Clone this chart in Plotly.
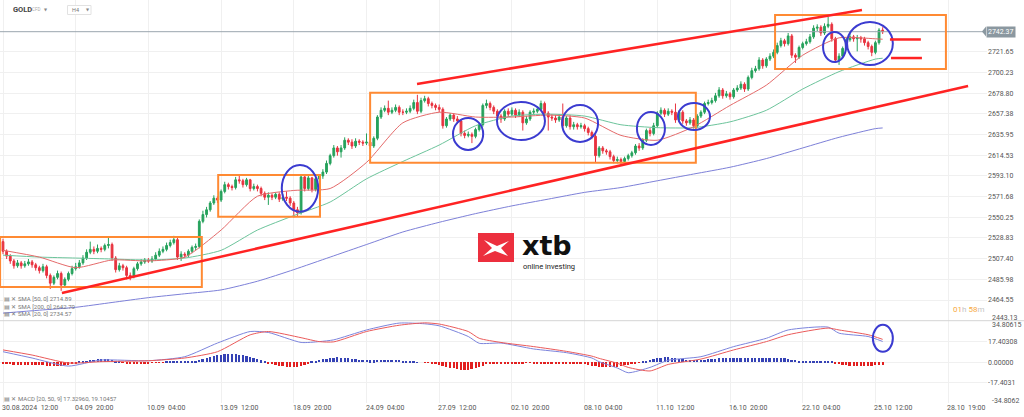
import plotly.graph_objects as go

W, H = 1024, 417

# ---------------- data ----------------
bar_index = list(range(243))

opens = [2525,2515,2510,2505,2500,2503,2500,2502,2504,2501,
         2498,2495,2499,2490,2482,2488,2492,2480,2486,2492,
         2497,2499,2503,2508,2514,2517,2515,2518,2517,2521,
         2522,2508,2496,2500,2498,2490,2489,2497,2502,2504,
         2506,2505,2507,2511,2515,2517,2521,2524,2527,2509,
         2512,2511,2515,2519,2520,2546,2553,2558,2565,2570,
         2568,2577,2584,2582,2581,2589,2588,2584,2589,2580,
         2582,2580,2575,2571,2573,2571,2574,2569,2571,2570,
         2565,2558,2555,2592,2580,2591,2579,2590,2593,2597,
         2606,2614,2622,2618,2622,2630,2628,2624,2629,2628,
         2627,2628,2624,2632,2654,2661,2663,2659,2661,2664,
         2659,2659,2660,2663,2669,2660,2671,2673,2668,2666,
         2664,2662,2645,2652,2656,2652,2650,2637,2635,2636,
         2634,2641,2646,2666,2668,2664,2660,2655,2652,2660,
         2657,2661,2656,2659,2648,2652,2659,2660,2662,2668,
         2658,2654,2653,2651,2654,2645,2653,2644,2646,2644,
         2645,2642,2638,2634,2614,2622,2619,2618,2613,2609,
         2610,2608,2611,2614,2617,2624,2622,2630,2640,2637,
         2645,2658,2661,2657,2660,2659,2651,2659,2650,2648,
         2651,2645,2655,2659,2668,2669,2671,2676,2682,2676,
         2678,2675,2682,2684,2688,2683,2695,2702,2704,2713,
         2707,2714,2717,2721,2728,2733,2730,2738,2718,2716,
         2726,2730,2732,2737,2746,2747,2741,2748,2750,2735,
         2713,2717,2725,2734,2737,2735,2736,2735,2731,2727,
         2721,2731,2744]

highs = [2528,2517,2512,2507,2506,2505,2505,2507,2506,2503,
         2500,2502,2501,2492,2490,2495,2494,2488,2494,2500,
         2503,2506,2511,2517,2525,2520,2522,2520,2523,2530,
         2524,2510,2503,2502,2500,2493,2499,2504,2507,2508,
         2508,2510,2514,2518,2520,2524,2527,2531,2529,2515,
         2514,2517,2521,2523,2548,2557,2561,2567,2573,2572,
         2579,2587,2586,2584,2592,2593,2590,2591,2590,2585,
         2584,2582,2577,2576,2575,2576,2576,2574,2577,2572,
         2567,2561,2594,2593,2593,2592,2592,2595,2600,2609,
         2616,2625,2624,2625,2633,2632,2631,2632,2631,2630,
         2637,2630,2634,2656,2664,2666,2671,2664,2667,2666,
         2662,2663,2666,2672,2677,2674,2676,2675,2670,2668,
         2667,2664,2654,2658,2658,2655,2652,2640,2639,2638,
         2643,2648,2668,2672,2670,2666,2662,2657,2662,2663,
         2664,2663,2662,2661,2655,2661,2663,2665,2671,2670,
         2660,2657,2656,2657,2668,2655,2656,2649,2648,2648,
         2647,2644,2640,2636,2624,2624,2621,2620,2615,2613,
         2612,2613,2616,2619,2626,2627,2632,2642,2643,2648,
         2660,2664,2663,2663,2662,2668,2661,2661,2652,2654,
         2653,2657,2661,2670,2672,2674,2679,2685,2684,2681,
         2680,2684,2687,2691,2690,2697,2705,2707,2716,2715,
         2716,2720,2724,2731,2736,2735,2741,2740,2720,2728,
         2732,2735,2740,2749,2750,2749,2751,2758,2752,2737,
         2720,2727,2736,2740,2739,2739,2738,2737,2733,2729,
         2733,2746,2747]

lows = [2512,2507,2502,2497,2498,2497,2498,2500,2498,2495,
        2492,2493,2487,2476,2480,2486,2474,2478,2484,2490,
        2495,2497,2501,2506,2512,2512,2513,2514,2515,2518,
        2505,2493,2494,2495,2486,2485,2487,2495,2500,2502,
        2503,2503,2505,2509,2513,2515,2519,2522,2506,2505,
        2508,2509,2513,2516,2518,2544,2550,2556,2563,2565,
        2566,2575,2579,2578,2579,2585,2581,2582,2577,2578,
        2577,2572,2568,2563,2568,2569,2566,2567,2567,2562,
        2550,2551,2553,2577,2578,2576,2577,2587,2590,2595,
        2604,2612,2614,2612,2620,2625,2621,2622,2625,2624,
        2625,2621,2622,2630,2652,2659,2656,2657,2659,2656,
        2656,2657,2658,2661,2657,2658,2669,2665,2663,2661,
        2659,2642,2643,2650,2649,2647,2634,2632,2633,2627,
        2632,2639,2644,2663,2661,2657,2652,2648,2650,2654,
        2655,2653,2654,2640,2646,2650,2657,2658,2660,2655,
        2640,2650,2648,2649,2642,2643,2641,2641,2641,2642,
        2639,2635,2631,2607,2612,2616,2615,2610,2606,2606,
        2605,2606,2609,2612,2615,2619,2620,2628,2634,2635,
        2643,2656,2654,2655,2656,2648,2649,2647,2645,2646,
        2642,2643,2653,2657,2666,2667,2669,2674,2673,2674,
        2672,2673,2680,2682,2680,2681,2693,2700,2702,2704,
        2705,2712,2715,2719,2726,2727,2728,2715,2710,2714,
        2724,2728,2730,2735,2743,2738,2739,2746,2732,2710,
        2708,2715,2723,2732,2732,2722,2731,2728,2724,2717,
        2719,2729,2740]

closes = [2515,2510,2505,2500,2503,2500,2502,2504,2501,2498,
          2495,2499,2490,2482,2488,2492,2480,2486,2492,2497,
          2499,2503,2508,2514,2517,2515,2518,2517,2521,2522,
          2508,2496,2500,2498,2490,2489,2497,2502,2504,2506,
          2505,2507,2511,2515,2517,2521,2524,2527,2509,2512,
          2511,2515,2519,2520,2546,2553,2558,2565,2570,2568,
          2577,2584,2582,2581,2589,2588,2584,2589,2580,2582,
          2580,2575,2571,2573,2571,2574,2569,2571,2570,2565,
          2558,2555,2592,2580,2591,2579,2590,2593,2597,2606,
          2614,2622,2618,2622,2630,2628,2624,2629,2628,2627,
          2628,2624,2632,2654,2661,2663,2659,2661,2664,2659,
          2659,2660,2663,2669,2660,2671,2673,2668,2666,2664,
          2662,2645,2652,2656,2652,2650,2637,2635,2636,2634,
          2641,2646,2666,2668,2664,2660,2655,2652,2660,2657,
          2661,2656,2659,2648,2652,2659,2660,2662,2668,2658,
          2654,2653,2651,2654,2645,2653,2644,2646,2644,2645,
          2642,2638,2634,2614,2622,2619,2618,2613,2609,2610,
          2608,2611,2614,2617,2624,2622,2630,2640,2637,2645,
          2658,2661,2657,2660,2659,2651,2659,2650,2648,2651,
          2645,2655,2659,2668,2669,2671,2676,2682,2676,2678,
          2675,2682,2684,2688,2683,2695,2702,2704,2713,2707,
          2714,2717,2721,2728,2733,2730,2738,2718,2716,2726,
          2730,2732,2737,2746,2747,2741,2748,2750,2735,2713,
          2717,2725,2734,2737,2735,2736,2735,2731,2727,2721,
          2731,2744,2742.37]

sma_idx = [0, 10, 20, 30, 40, 50, 60, 70, 80, 90, 100, 110, 120, 130, 140,
           150, 160, 170, 180, 190, 200, 210, 220, 230, 240, 242]
sma20 = [2516, 2509, 2498, 2506, 2505, 2509, 2537, 2572, 2578, 2580, 2607, 2648, 2659,
         2654, 2654, 2656, 2653, 2635, 2630, 2644, 2666, 2687, 2718, 2736, 2735, 2734.57]
sma50 = [2511, 2509, 2508, 2507, 2506, 2508, 2516, 2537, 2552, 2566, 2590, 2608, 2625,
         2645, 2655, 2657, 2655, 2646, 2643, 2643, 2649, 2661, 2683, 2701, 2714, 2714.89]
sma200 = [2451, 2454, 2457, 2462, 2467, 2471, 2475, 2484, 2496, 2509, 2522, 2535, 2545,
          2554, 2562, 2569, 2576, 2581, 2588, 2595, 2602, 2611, 2622, 2633, 2642, 2642.70]

macd_idx = [0, 8, 18, 27, 40, 50, 59, 68, 73, 82, 87, 91, 100, 109, 116, 120, 128, 131,
            137, 146, 155, 162, 164, 169, 172, 178, 183, 192, 201, 210, 216, 227, 230, 238, 242]
macd_line = [8.7, 3.4, -3.4, 1.7, 1.1, 4.5, 16.0, 25.7, 24.9, 16.5, 17.2, 18.7, 27.0, 32.8,
             32.2, 30.5, 21.5, 15.8, 16.0, 11.0, 7.9, 3.4, 0.3, -5.0, -9.0, -4.5, 1.5, 4.5,
             13.0, 20.0, 27.0, 29.4, 24.3, 21.5, 17.3296]
signal_line = [10.2, 5.9, -0.8, 0.3, 1.1, 3.4, 8.7, 22.9, 25.7, 20.5, 17.2, 17.0, 25.7, 31.0,
               33.0, 32.0, 25.7, 20.0, 16.5, 13.0, 9.0, 5.0, 3.1, -1.0, -4.5, -7.5, -2.0, 2.5,
               10.2, 17.2, 23.0, 28.6, 27.0, 23.0, 19.10457]
macd_hist = [-1.5, -1.6, -1.8, -2.0, -2.1, -2.2, -2.3, -2.4, -2.5, -2.5, -2.6, -2.6, -2.7, -2.8,
             -2.8, -2.7, -2.8, -2.6, -2.4, -1.8, -1.0,
             0.5, 1.0, 1.5, 2.0, 2.4, 2.6, 2.8, 2.7, 2.5, 2.0, 1.4, 0.8,
             -0.5, -1.0, -1.3, -1.4, -1.3, -1.0, -0.8, -0.6, -0.4, -0.3, -0.2, -0.1,
             0.3, 0.5, 0.8, 0.9, 0.7, 0.6, 0.8, 1.0, 1.2,
             1.8, 2.8, 3.6, 4.4, 5.2, 5.9, 6.4, 6.8, 7.0, 7.0, 6.8, 6.4, 5.8, 5.0, 4.2, 3.4, 2.5, 1.6, 0.7,
             -0.6, -1.5, -2.2, -2.8, -3.2, -3.5, -3.7, -3.8, -3.6, -3.2, -2.6, -1.8,
             0.5, 1.2, 1.9, 2.6, 3.2, 3.6, 3.9, 4.1, 4.0, 3.8, 3.4, 3.0, 2.6, 2.2, 1.9, 1.7, 1.6,
             1.6, 1.7, 1.9, 2.1, 2.2, 2.2, 2.0, 1.7, 1.3, 0.9, 0.6, 0.4,
             0.1, 0.0, -0.1, -0.2,
             -0.6, -1.2, -2.0, -2.8, -3.6, -4.4, -5.1, -5.7, -6.1, -6.3, -6.2, -5.8, -5.0, -4.0, -2.8, -1.8,
             -1.2, -0.9, -0.7, -0.6, -0.6, -0.7, -0.8, -0.8, -0.7, -0.6, -0.5, -0.5, -0.6, -0.7, -0.8,
             -0.8, -0.9, -1.0, -1.0, -0.9, -0.9, -1.0, -1.1, -1.2, -1.3, -1.5, -1.8, -2.2, -2.7,
             -3.2, -3.6, -3.9, -4.0, -4.0, -3.8, -3.5, -3.1, -2.6, -2.0, -1.3, -0.7, -0.2,
             0.6, 1.4, 2.2, 2.9, 3.5, 3.9, 4.1, 4.1, 3.9, 3.5, 3.1, 2.7, 2.4, 2.2, 2.1, 2.1, 2.2, 2.4,
             2.6, 2.9, 3.1,
             3.3, 3.5, 3.6, 3.7, 3.8, 3.8, 3.9, 3.9, 4.0, 4.0, 4.0, 4.0, 3.9, 3.9, 3.9, 3.8, 3.7, 3.5,
             3.3, 2.9, 2.4,
             1.8, 1.4, 1.2, 1.1, 1.0, 1.0, 1.1, 1.2, 1.1, 0.8, 0.3,
             -0.6, -1.4, -2.0, -2.4, -2.7, -2.9, -3.0, -3.0, -2.9, -2.8, -2.7, -2.6, -2.5, -2.4]

date_tick_idx = [0, 20, 40, 60, 80, 100, 120, 140, 160, 180, 200, 220, 240, 260]
date_tick_labels = ["30.08.2024  12:00", "04.09  20:00", "10.09  04:00", "13.09  12:00",
                    "18.09  20:00", "24.09  04:00", "27.09  12:00", "02.10  20:00",
                    "08.10  04:00", "11.10  12:00", "16.10  20:00", "22.10  04:00",
                    "25.10  12:00", "28.10  19:00"]

price_ticks = [2464.55, 2485.98, 2507.40, 2528.83, 2550.25, 2571.68, 2593.10, 2614.53,
               2635.95, 2657.38, 2678.80, 2700.23, 2721.65]
price_tick_labels = ["2464.55", "2485.98", "2507.40", "2528.83", "2550.25", "2571.68", "2593.10",
                     "2614.53", "2635.95", "2657.38", "2678.80", "2700.23", "2721.65"]
price_min, price_max = 2443.13, 2775.18
last_price = 2742.37

macd_ticks = [17.40308, 0.0, -17.40308]
macd_tick_labels = ["17.40308", "0.00000", "-17.4031"]
macd_lim = 34.80615

legend_sma = ["SMA [50, 0] 2714.89", "SMA [200, 0] 2642.70", "SMA [20, 0] 2734.57"]
legend_macd = "MACD [20, 50, 9] 17.32960, 19.10457"

# ---------------- styles / layout geometry ----------------
FONT = "Roboto"
GREEN = "#26a25c"
RED = "#e8333f"
ORANGE = "#ff8a33"
TREND_RED = "#ff2323"
CIRCLE = "#3b3bd0"
GRID = "#f0f0f0"
LBL = "#555555"

PLOT_R = 987 / W
price_dom = [1 - 320.7 / H, 1.0]
macd_dom = [1 - 403.4 / H, 1 - 320.7 / H]
x_range = [-3 / 3.635, 984 / 3.635]


def py(px):
    return 1 - px / H


def pxx(px):
    return px / W


fig = go.Figure()

fig.add_trace(go.Scatter(x=sma_idx, y=sma200, mode="lines", line=dict(color="#7d80d8", width=1, shape="spline", smoothing=0.6),
                         xaxis="x", yaxis="y", hoverinfo="skip"))
fig.add_trace(go.Scatter(x=sma_idx, y=sma50, mode="lines", line=dict(color="#6cc49b", width=1, shape="spline", smoothing=0.6),
                         xaxis="x", yaxis="y", hoverinfo="skip"))
fig.add_trace(go.Scatter(x=sma_idx, y=sma20, mode="lines", line=dict(color="#e46a6a", width=1, shape="spline", smoothing=0.6),
                         xaxis="x", yaxis="y", hoverinfo="skip"))

fig.add_trace(go.Candlestick(
    x=bar_index, open=opens, high=highs, low=lows, close=closes,
    increasing=dict(line=dict(color=GREEN, width=1), fillcolor=GREEN),
    decreasing=dict(line=dict(color=RED, width=1), fillcolor=RED),
    whiskerwidth=0, xaxis="x", yaxis="y"))

hist_colors = ["#3542b5" if v >= 0 else "#e21f1f" for v in macd_hist]
fig.add_trace(go.Bar(x=bar_index, y=macd_hist, marker=dict(color=hist_colors, line=dict(width=0)),
                     width=0.55, xaxis="x2", yaxis="y2", hoverinfo="skip"))
fig.add_trace(go.Scatter(x=macd_idx, y=macd_line, mode="lines", line=dict(color="#7c84dc", width=1, shape="spline", smoothing=0.6),
                         xaxis="x2", yaxis="y2", hoverinfo="skip"))
fig.add_trace(go.Scatter(x=macd_idx, y=signal_line, mode="lines", line=dict(color="#ea5a5a", width=1, shape="spline", smoothing=0.6),
                         xaxis="x2", yaxis="y2", hoverinfo="skip"))

axis_common = dict(range=x_range, domain=[0, PLOT_R], tickvals=date_tick_idx, showticklabels=False,
                   showgrid=True, gridcolor=GRID, gridwidth=1, zeroline=False, showline=False, ticks="",
                   fixedrange=True)

fig.update_layout(
    width=W, height=H, margin=dict(l=0, r=0, t=0, b=0),
    paper_bgcolor="white", plot_bgcolor="white", showlegend=False,
    font=dict(family=FONT, size=7, color=LBL),
    bargap=0,
    xaxis=dict(anchor="y", rangeslider=dict(visible=False), **axis_common),
    xaxis2=dict(anchor="y2", **axis_common),
    yaxis=dict(domain=price_dom, range=[price_min, price_max], side="right", anchor="x",
               tickvals=price_ticks, ticktext=price_tick_labels, tickfont=dict(size=7, color=LBL),
               showgrid=True, gridcolor=GRID, zeroline=False, showline=False, ticks="", fixedrange=True),
    yaxis2=dict(domain=macd_dom, range=[-macd_lim, macd_lim], side="right", anchor="x2",
                tickvals=macd_ticks, ticktext=macd_tick_labels, tickfont=dict(size=7, color=LBL),
                showgrid=True, gridcolor=GRID, zeroline=False, showline=False, ticks="", fixedrange=True),
)

shapes = []
# pane separator and current price line
shapes.append(dict(type="line", xref="paper", yref="paper", x0=0, x1=1, y0=py(320.7), y1=py(320.7),
                   line=dict(color="#d4d4d4", width=1)))
shapes.append(dict(type="line", xref="paper", yref="y", x0=0, x1=pxx(985), y0=last_price, y1=last_price,
                   line=dict(color="#9aa6ae", width=1)))
# price badge arrow
shapes.append(dict(type="path", xref="paper", yref="paper",
                   path=f"M {pxx(982)},{py(31.5)} L {pxx(986)},{py(26.5)} L {pxx(986)},{py(36.5)} Z",
                   fillcolor="#8b98a0", line=dict(width=0)))

# orange boxes (x in bar index, y in price)
boxes = [(-0.8, 54.7, 2478.0, 2529.8), (59.2, 87.2, 2550.8, 2594.0),
         (101.0, 190.6, 2606.7, 2679.2), (212.4, 259.4, 2703.7, 2759.6)]
for x0, x1, y0, y1 in boxes:
    shapes.append(dict(type="rect", xref="x", yref="y", x0=x0, x1=x1, y0=y0, y1=y1,
                       line=dict(color=ORANGE, width=2), layer="above"))

# blue ellipses
ellipses = [(76.7, 86.7, 2556.0, 2604.3), (123.8, 132.1, 2619.9, 2653.0),
            (135.9, 149.1, 2630.2, 2669.6), (153.8, 163.7, 2628.2, 2666.5),
            (174.4, 182.1, 2625.0, 2659.2), (185.7, 194.5, 2640.6, 2668.5),
            (225.6, 231.9, 2711.0, 2742.0), (232.2, 244.8, 2707.9, 2752.4)]
for x0, x1, y0, y1 in ellipses:
    shapes.append(dict(type="circle", xref="x", yref="y", x0=x0, x1=x1, y0=y0, y1=y1,
                       line=dict(color=CIRCLE, width=2), layer="above"))
shapes.append(dict(type="circle", xref="x2", yref="y2", x0=239.3, x1=244.8, y0=8.6, y1=31.3,
                   line=dict(color=CIRCLE, width=2), layer="above"))

# red trend lines
trend = [(113.9, 2688.2, 236.3, 2764.8), (16.2, 2471.8, 265.5, 2686.1),
         (244.0, 2734.3, 252.5, 2734.3), (244.3, 2715.1, 252.8, 2715.1)]
for x0, y0, x1, y1 in trend:
    shapes.append(dict(type="line", xref="x", yref="y", x0=x0, y0=y0, x1=x1, y1=y1,
                       line=dict(color=TREND_RED, width=2.5), layer="above"))

# header H4 box
shapes.append(dict(type="rect", xref="paper", yref="paper", x0=pxx(67.5), x1=pxx(91), y0=py(14.5), y1=py(5.5),
                   fillcolor="white", line=dict(color="#e2e2e2", width=1)))

# xtb logo
shapes.append(dict(type="rect", xref="paper", yref="paper", x0=pxx(478), x1=pxx(514), y0=py(262), y1=py(233),
                   fillcolor="#ec2f3e", line=dict(width=0), layer="above"))
xpts = [(484, 240), (497, 246), (509, 241), (501, 248), (508, 256), (495, 251), (483, 256), (492, 248)]
path = "M " + " L ".join(f"{pxx(a)},{py(b)}" for a, b in xpts) + " Z"
shapes.append(dict(type="path", xref="paper", yref="paper", path=path, fillcolor="white",
                   line=dict(width=0), layer="above"))

fig.update_layout(shapes=shapes)

ann = []
for idx, lab in zip(date_tick_idx, date_tick_labels):
    ann.append(dict(x=idx, xref="x2", y=py(407.5), yref="paper", text=lab.replace(" ", "\u00a0"),
                    xanchor="left", yanchor="middle", showarrow=False, xshift=-3,
                    font=dict(family=FONT, size=7, color=LBL)))
# edge axis labels
for txt, ypx in [("2443.13", 318.0), ("34.80615", 325.0), ("-34.8062", 401.0)]:
    ann.append(dict(x=PLOT_R, xref="paper", y=py(ypx), yref="paper", text=txt, xanchor="left",
                    yanchor="middle", showarrow=False, xshift=3, font=dict(family=FONT, size=7, color=LBL)))
# price badge
ann.append(dict(x=pxx(986), xref="paper", y=last_price, yref="y", text=f"{last_price:.2f}",
                xanchor="left", yanchor="middle", showarrow=False, bgcolor="#8b98a0",
                borderpad=1, font=dict(family=FONT, size=7, color="white")))
# countdown
ann.append(dict(x=pxx(986), xref="paper", y=py(309), yref="paper",
                text="<span style='color:#f7a941'>01</span>h <span style='color:#f7a941'>58</span>m",
                xanchor="right", yanchor="middle", showarrow=False,
                font=dict(family=FONT, size=8, color="#c4c4c4")))
# header
ann.append(dict(x=pxx(11), xref="paper", y=py(10), yref="paper", text="<b>GOLD</b>", xanchor="left",
                yanchor="middle", showarrow=False, font=dict(family=FONT, size=7.5, color="#444")))
ann.append(dict(x=pxx(30), xref="paper", y=py(10), yref="paper", text="CFD", xanchor="left",
                yanchor="middle", showarrow=False, font=dict(family=FONT, size=4.5, color="#aaa")))
ann.append(dict(x=pxx(42), xref="paper", y=py(9.5), yref="paper", text="▼", xanchor="left",
                yanchor="middle", showarrow=False, font=dict(family="DejaVu Sans", size=4, color="#888")))
ann.append(dict(x=pxx(70), xref="paper", y=py(10), yref="paper", text="H4", xanchor="left",
                yanchor="middle", showarrow=False, font=dict(family=FONT, size=5.5, color="#777")))
ann.append(dict(x=pxx(84), xref="paper", y=py(9.5), yref="paper", text="▼", xanchor="left",
                yanchor="middle", showarrow=False, font=dict(family="DejaVu Sans", size=4, color="#888")))
# indicator legends
for txt, ypx in zip(legend_sma, [298, 306, 313.5]):
    ann.append(dict(x=pxx(2), xref="paper", y=py(ypx), yref="paper", text="▤ ✕ " + txt, xanchor="left",
                    yanchor="middle", showarrow=False, font=dict(family=FONT, size=6, color="#777")))
ann.append(dict(x=pxx(2), xref="paper", y=py(398), yref="paper", text="▤ ✕ " + legend_macd, xanchor="left",
                yanchor="middle", showarrow=False, font=dict(family=FONT, size=6, color="#777")))
# xtb logo text
ann.append(dict(x=pxx(520), xref="paper", y=py(245), yref="paper", text="<b>xtb</b>", xanchor="left",
                yanchor="middle", showarrow=False, font=dict(family="DejaVu Sans", size=27, color="#111")))
ann.append(dict(x=pxx(521), xref="paper", y=py(266.5), yref="paper", text="online investing", xanchor="left",
                yanchor="middle", showarrow=False, font=dict(family=FONT, size=7.5, color="#222222")))

fig.update_layout(annotations=ann)

fig.write_html("out.html", config={"displayModeBar": False},
               post_script="document.body.style.margin='0';document.body.style.padding='0';")
